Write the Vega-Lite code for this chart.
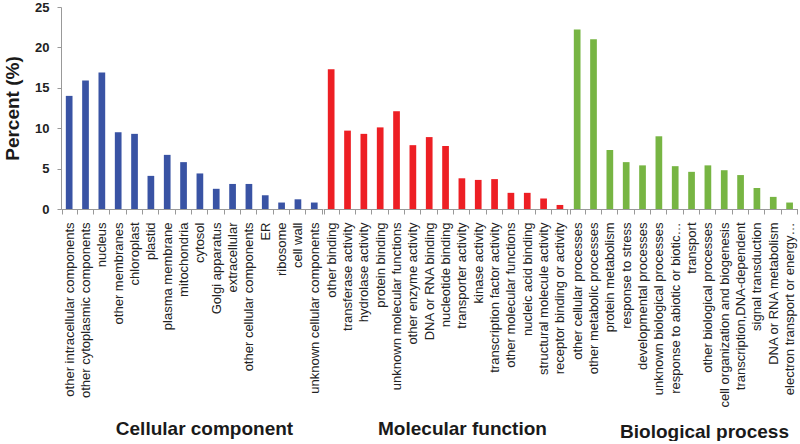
{
  "$schema": "https://vega.github.io/schema/vega-lite/v6.json",
  "padding": {"left": 3, "top": 1, "right": 0, "bottom": 0},
  "background": "white",
  "bounds": "flush",
  "data": {"values": [
    {"group": "Cellular component", "term": "other intracellular components", "percent": 14.0},
    {"group": "Cellular component", "term": "other cytoplasmic components", "percent": 15.9},
    {"group": "Cellular component", "term": "nucleus", "percent": 16.9},
    {"group": "Cellular component", "term": "other membranes", "percent": 9.5},
    {"group": "Cellular component", "term": "chloroplast", "percent": 9.3},
    {"group": "Cellular component", "term": "plastid", "percent": 4.1},
    {"group": "Cellular component", "term": "plasma membrane", "percent": 6.7},
    {"group": "Cellular component", "term": "mitochondria", "percent": 5.8},
    {"group": "Cellular component", "term": "cytosol", "percent": 4.4},
    {"group": "Cellular component", "term": "Golgi apparatus", "percent": 2.5},
    {"group": "Cellular component", "term": "extracellular", "percent": 3.1},
    {"group": "Cellular component", "term": "other cellular components", "percent": 3.1},
    {"group": "Cellular component", "term": "ER", "percent": 1.7},
    {"group": "Cellular component", "term": "ribosome", "percent": 0.8},
    {"group": "Cellular component", "term": "cell wall", "percent": 1.2},
    {"group": "Cellular component", "term": "unknown cellular components", "percent": 0.8},
    {"group": "Molecular function", "term": "other binding", "percent": 17.3},
    {"group": "Molecular function", "term": "transferase activity", "percent": 9.7},
    {"group": "Molecular function", "term": "hydrolase activity", "percent": 9.3},
    {"group": "Molecular function", "term": "protein binding", "percent": 10.1},
    {"group": "Molecular function", "term": "unknown molecular functions", "percent": 12.1},
    {"group": "Molecular function", "term": "other enzyme activity", "percent": 7.9},
    {"group": "Molecular function", "term": "DNA or RNA binding", "percent": 8.9},
    {"group": "Molecular function", "term": "nucleotide binding", "percent": 7.8},
    {"group": "Molecular function", "term": "transporter activity", "percent": 3.8},
    {"group": "Molecular function", "term": "kinase activity", "percent": 3.6},
    {"group": "Molecular function", "term": "transcription factor activity", "percent": 3.7},
    {"group": "Molecular function", "term": "other molecular functions", "percent": 2.0},
    {"group": "Molecular function", "term": "nucleic acid binding", "percent": 2.0},
    {"group": "Molecular function", "term": "structural molecule activity", "percent": 1.3},
    {"group": "Molecular function", "term": "receptor binding or activity", "percent": 0.5},
    {"group": "Biological process", "term": "other cellular processes", "percent": 22.2},
    {"group": "Biological process", "term": "other metabolic processes", "percent": 21.0},
    {"group": "Biological process", "term": "protein metabolism", "percent": 7.3},
    {"group": "Biological process", "term": "response to stress", "percent": 5.8},
    {"group": "Biological process", "term": "developmental processes", "percent": 5.4},
    {"group": "Biological process", "term": "unknown biological processes", "percent": 9.0},
    {"group": "Biological process", "term": "response to abiotic or biotic…", "percent": 5.3},
    {"group": "Biological process", "term": "transport", "percent": 4.6},
    {"group": "Biological process", "term": "other biological processes", "percent": 5.4},
    {"group": "Biological process", "term": "cell organization and biogenesis", "percent": 4.8},
    {"group": "Biological process", "term": "transcription,DNA-dependent", "percent": 4.2},
    {"group": "Biological process", "term": "signal transduction", "percent": 2.6},
    {"group": "Biological process", "term": "DNA or RNA metabolism", "percent": 1.5},
    {"group": "Biological process", "term": "electron transport or energy…", "percent": 0.8}
  ]},
  "spacing": 0,
  "hconcat": [
    {
      "width": {"step": 16.34},
      "height": 202,
      "transform": [{"filter": "datum.group === 'Cellular component'"}],
      "mark": {"type": "bar", "width": 6.7},
      "encoding": {
        "x": {"field": "term", "type": "nominal", "sort": null,
              "axis": {"title": "Cellular component", "titleX": 143, "titleY": 225}},
        "y": {"field": "percent", "type": "quantitative", "scale": {"domain": [0, 25]},
              "axis": {"title": "Percent (%)", "values": [0, 5, 10, 15, 20, 25]}},
        "color": {"field": "group", "type": "nominal", "legend": null,
                  "scale": {"domain": ["Cellular component", "Molecular function", "Biological process"], "range": ["#3953a4", "#ed1f24", "#77b543"]}}
      }
    },
    {
      "width": {"step": 16.34},
      "height": 202,
      "transform": [{"filter": "datum.group === 'Molecular function'"}],
      "mark": {"type": "bar", "width": 6.7},
      "encoding": {
        "x": {"field": "term", "type": "nominal", "sort": null,
              "axis": {"title": "Molecular function", "titleX": 139, "titleY": 225}},
        "y": {"field": "percent", "type": "quantitative", "scale": {"domain": [0, 25]}, "axis": null},
        "color": {"field": "group", "type": "nominal", "legend": null,
                  "scale": {"domain": ["Cellular component", "Molecular function", "Biological process"], "range": ["#3953a4", "#ed1f24", "#77b543"]}}
      }
    },
    {
      "width": {"step": 16.34},
      "height": 202,
      "transform": [{"filter": "datum.group === 'Biological process'"}],
      "mark": {"type": "bar", "width": 6.7},
      "encoding": {
        "x": {"field": "term", "type": "nominal", "sort": null,
              "axis": {"title": "Biological process", "titleX": 135, "titleY": 228}},
        "y": {"field": "percent", "type": "quantitative", "scale": {"domain": [0, 25]}, "axis": null},
        "color": {"field": "group", "type": "nominal", "legend": null,
                  "scale": {"domain": ["Cellular component", "Molecular function", "Biological process"], "range": ["#3953a4", "#ed1f24", "#77b543"]}}
      }
    }
  ],
  "config": {
    "view": {"stroke": null},
    "font": "Liberation Sans",
    "axisX": {
      "labelAngle": -90, "labelFontSize": 13, "labelColor": "#222", "labelPadding": 8,
      "tickSize": 5, "tickBand": "extent", "tickColor": "#999", "domainColor": "#999",
      "titleFontSize": 19, "titleFontWeight": "bold", "titleColor": "#1a1a1a",
      "titleBaseline": "alphabetic", "titleAlign": "center", "labelLimit": 0, "grid": false
    },
    "axisY": {
      "labelFontSize": 13, "labelFontWeight": "bold", "labelColor": "#222", "labelPadding": 8,
      "tickSize": 4, "tickColor": "#999", "domainColor": "#999", "grid": false,
      "titleFontSize": 19, "titleFontWeight": "bold", "titleColor": "#1a1a1a", "titlePadding": 12
    }
  }
}
